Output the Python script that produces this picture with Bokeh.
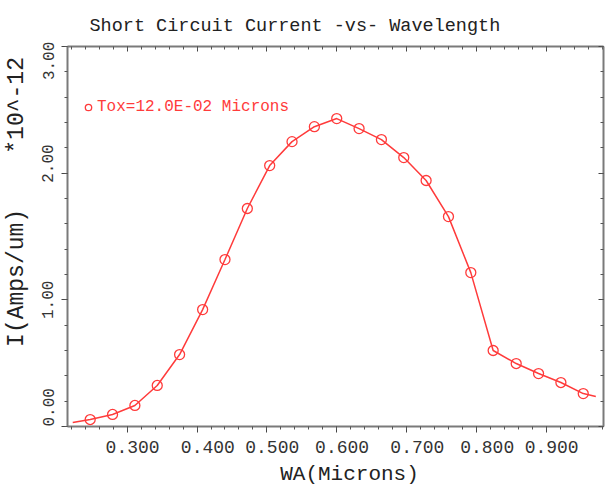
import json
from bokeh.plotting import figure
from bokeh.models import (LinearAxis, SingleIntervalTicker, CustomJSTickFormatter,
                          Range1d, Legend, LegendItem, Label)
from bokeh.embed import file_html
from bokeh.resources import INLINE

# --- data ---
title_text = "Short Circuit Current -vs- Wavelength"
x_label = "WA(Microns)"
y_label_left = "I(Amps/um)"
y_label_right = "*10^-12"
series_name = "Tox=12.0E-02 Microns"

wl = [0.247, 0.279, 0.311, 0.343, 0.375, 0.408, 0.440, 0.472, 0.504, 0.536,
      0.568, 0.600, 0.632, 0.664, 0.696, 0.728, 0.760, 0.792, 0.824, 0.857,
      0.889, 0.921, 0.953]
isc = [0.055, 0.095, 0.166, 0.324, 0.568, 0.923, 1.318, 1.721, 2.060, 2.249,
       2.367, 2.431, 2.352, 2.265, 2.123, 1.942, 1.657, 1.215, 0.600, 0.497,
       0.418, 0.347, 0.260]
# line extends slightly past the first/last markers
line_start = (0.222, 0.032)
line_end = (0.971, 0.237)

# tick-label nudges (number of no-break spaces), as the reference draws them off-centre
x_label_pad = {"0.300": 1, "0.400": 2, "0.500": 1, "0.600": 1,
               "0.700": 2, "0.800": 2, "0.900": 1}
y_label_lead = {"0.00": 4, "2.00": 2}
y_label_trail = {"3.00": 3}

FONT = "Liberation Mono"
RED = "#ff3b3b"
AXIS = "#7a7a7a"
NB = "\u00a0"

p = figure(width=605, height=485, output_backend="svg", toolbar_location=None,
           x_range=Range1d(0.2145, 0.982), y_range=Range1d(0.0, 3.0),
           x_axis_type=None, y_axis_type=None,
           min_border_left=66, min_border_right=2, min_border_top=46,
           min_border_bottom=59)
p.outline_line_color = None
p.grid.visible = False
p.background_fill_color = "white"

p.title.text = title_text
p.title.align = "left"
p.title.offset = 22
p.title.standoff = 20
p.title.text_font = FONT
p.title.text_font_size = "18.5px"
p.title.text_font_style = "normal"
p.title.text_color = "#222222"

def style(ax, labels=True, inside=False):
    ax.axis_line_color = AXIS
    ax.axis_line_width = 2
    ax.major_tick_line_color = "#444444"
    ax.minor_tick_line_color = "#555555"
    if inside:
        ax.major_tick_in = 5
        ax.major_tick_out = 0
        ax.minor_tick_in = 3
        ax.minor_tick_out = 0
    else:
        ax.major_tick_in = 0
        ax.major_tick_out = 6
        ax.minor_tick_in = 0
        ax.minor_tick_out = 3
    ax.major_label_text_font = FONT
    ax.major_label_text_color = "#333333"
    ax.axis_label_text_font = FONT
    ax.axis_label_text_font_style = "normal"
    ax.axis_label_text_color = "#222222"
    if not labels:
        ax.major_label_text_color = None
        ax.major_label_text_font_size = "1px"
        ax.major_label_standoff = 0

x_fmt = CustomJSTickFormatter(code="""
const pads = %s;
const s = tick.toFixed(3);
return "\\u00a0".repeat(pads[s] || 0) + s;
""" % json.dumps(x_label_pad))

y_fmt = CustomJSTickFormatter(code="""
const lead = %s;
const trail = %s;
const s = tick.toFixed(2);
return "\\u00a0".repeat(lead[s] || 0) + s + "\\u00a0".repeat(trail[s] || 0);
""" % (json.dumps(y_label_lead), json.dumps(y_label_trail)))

xb = LinearAxis(ticker=SingleIntervalTicker(interval=0.1, num_minor_ticks=5),
                formatter=x_fmt)
style(xb)
xb.major_label_text_font_size = "18px"
xb.major_label_standoff = 5
p.add_layout(xb, "below")

yl = LinearAxis(ticker=SingleIntervalTicker(interval=1.0, num_minor_ticks=5),
                formatter=y_fmt,
                axis_label=NB * 5 + y_label_left + NB * 4 + y_label_right)
style(yl)
yl.major_label_orientation = "vertical"
yl.major_label_text_font_size = "16px"
yl.major_label_standoff = 3
yl.axis_label_text_font_size = "23px"
yl.axis_label_standoff = 8
p.add_layout(yl, "left")

xtop = LinearAxis(ticker=SingleIntervalTicker(interval=0.1, num_minor_ticks=5))
style(xtop, labels=False, inside=True)
p.add_layout(xtop, "above")

yr = LinearAxis(ticker=SingleIntervalTicker(interval=1.0, num_minor_ticks=5))
style(yr, labels=False, inside=True)
p.add_layout(yr, "right")

# x-axis title in the panel below the axis
p.add_layout(Label(x=282, y=21, x_units="screen", y_units="screen",
                   text=x_label, text_align="center", text_baseline="top",
                   text_font=FONT, text_font_size="21px", text_color="#222222"),
             "below")

lx = [line_start[0]] + wl + [line_end[0]]
ly = [line_start[1]] + isc + [line_end[1]]
p.line(lx, ly, line_color=RED, line_width=1.5)
pts = p.scatter(wl, isc, marker="circle", size=10, fill_color=None,
                line_color=RED, line_width=1.3)

legend = Legend(items=[LegendItem(label=series_name, renderers=[pts])],
                location=(13, 309), padding=0, margin=0, spacing=0,
                glyph_width=16, glyph_height=20, label_standoff=1,
                border_line_color=None, background_fill_alpha=0,
                label_text_font=FONT, label_text_font_size="16px",
                label_text_color=RED)
p.add_layout(legend, "center")

open("out.html", "w").write(file_html(p, INLINE))
